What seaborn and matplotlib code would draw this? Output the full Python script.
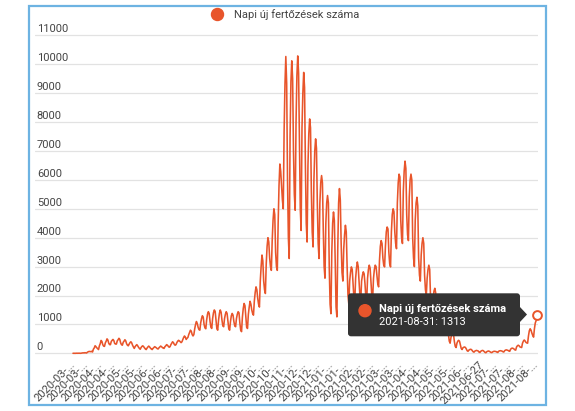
import pandas as pd
import matplotlib
matplotlib.use("Agg")
import matplotlib.pyplot as plt
import seaborn as sns
from matplotlib.patches import FancyBboxPatch, Polygon, Rectangle, Circle

series_name = "Napi új fertőzések száma"
start_date = "2020-03-04"

# daily new cases, one week per row
first_wave_2020 = [
    1, 0, 2, 0, 3, 1, 2,
    4, 2, 1, 6, 9, 17, 12,
    22, 15, 10, 40, 52, 66, 60,
    58, 70, 45, 144, 186, 263, 230,
    190, 160, 130, 257, 330, 445, 410,
    300, 250, 240, 360, 420, 500, 460,
    350, 300, 300, 410, 450, 480, 440,
    340, 320, 320, 430, 470, 520, 480,
    360, 300, 280, 380, 420, 470, 430,
    330, 280, 260, 320, 370, 400, 360,
    280, 220, 170, 230, 270, 300, 260,
    210, 170, 140, 200, 240, 260, 230,
    190, 150, 130, 180, 220, 250, 220,
    180, 150, 130, 170, 200, 230, 210,
]
summer_2020 = [
    190, 160, 150, 190, 220, 250, 230,
    200, 180, 170, 230, 260, 300, 280,
    240, 210, 230, 300, 350, 400, 370,
    310, 280, 300, 370, 420, 450, 430,
    400, 370, 400, 480, 550, 600, 560,
    480, 520, 550, 650, 730, 800, 760,
    650, 600, 650, 850, 1000, 1100, 1030,
    900, 820, 800, 1050, 1200, 1300, 1250,
    1000, 880, 850, 1150, 1350, 1440, 1380,
    1100, 900, 860, 1200, 1400, 1500, 1450,
    1150, 850, 800, 1150, 1380, 1500, 1420,
    1150, 950, 920, 1200, 1350, 1440, 1380,
    1100, 850, 800, 1100, 1300, 1380, 1320,
    1100, 950, 920, 1200, 1350, 1440, 1400,
    1050, 800, 750, 1250, 1550, 1725, 1650,
    1250, 900, 860, 1350, 1600, 1800, 1700,
]
autumn_2020 = [
    1500, 1380, 1320, 1800, 2100, 2300, 2200,
    1900, 1700, 1600, 2500, 3000, 3400, 3200,
    2500, 2200, 2070, 3100, 3700, 4000, 3850,
    3300, 3000, 2870, 3900, 4600, 5000, 4800,
    3500, 3000, 2870, 4500, 5800, 6550, 6300,
    5800, 5300, 5000, 7700, 9300, 10270, 9340,
    6000, 4000, 3280, 7500, 9400, 10120, 9500,
    7000, 5500, 4950, 8000, 9600, 10290, 9700,
    7200, 5000, 4250, 7800, 9000, 9720, 9200,
    6500, 4500, 3850, 6500, 7600, 8110, 7800,
    5600, 4200, 3680, 6000, 7000, 7420, 7100,
    5200, 3800, 3280, 5200, 5900, 6150, 5900,
    4300, 3000, 2600, 4500, 5200, 5460, 5200,
    3000, 1700, 1370, 3500, 4500, 4890, 4600,
    3200, 1600, 1260, 3600, 5200, 5700, 5300,
    3800, 2800, 2500, 3600, 4100, 4430, 4200,
]
winter_spring_2021 = [
    3000, 2000, 1700, 2500, 2800, 2990, 2900,
    2400, 1900, 1800, 2600, 2950, 3160, 3000,
    2500, 2000, 1800, 2500, 2700, 2820, 2750,
    2400, 1950, 1800, 2600, 2900, 3050, 2950,
    2500, 2000, 1900, 2600, 2900, 3050, 3000,
    2700, 2400, 2300, 3200, 3700, 3900, 3800,
    3300, 3050, 2990, 3700, 4200, 4370, 4300,
    3500, 3100, 2990, 4200, 4800, 5000, 4900,
    4200, 3800, 3620, 5200, 5900, 6200, 6100,
    4600, 4000, 3800, 5600, 6300, 6650, 6400,
    4800, 4100, 3900, 5400, 6000, 6200, 6000,
    4000, 3300, 3000, 4600, 5200, 5400, 5100,
    3300, 2700, 2500, 3400, 3800, 4000, 3800,
    2700, 2200, 2000, 2600, 2900, 3050, 2900,
    1900, 1450, 1300, 1900, 2150, 2250, 2100,
    1500, 1050, 900, 1400, 1600, 1700, 1600,
]
summer_2021 = [
    1000, 780, 700, 950, 1100, 1200, 1100,
    650, 420, 350, 550, 650, 700, 650,
    400, 240, 200, 350, 420, 450, 420,
    300, 170, 130, 190, 210, 220, 200,
    150, 90, 70, 110, 130, 140, 130,
    90, 55, 40, 75, 90, 100, 90,
    80, 40, 30, 70, 90, 100, 90,
    60, 30, 20, 55, 70, 80, 70,
    50, 30, 25, 50, 65, 70, 65,
    60, 40, 30, 70, 85, 90, 85,
    75, 55, 45, 90, 110, 120, 110,
    100, 80, 70, 140, 170, 180, 170,
    150, 120, 110, 220, 260, 280, 260,
    220, 210, 200, 350, 420, 460, 430,
    380, 360, 350, 600, 780, 850, 800,
    700, 620, 560, 850, 1050, 1130, 1313,
]

y_ticks = [0, 1000, 2000, 3000, 4000, 5000, 6000, 7000, 8000, 9000, 10000, 11000]
label_every = 16          # every 16th day gets a label
full_labels = ["2021-06-27"]

LINE = "#e8552b"
TEXT = "#444444"

sns.set_theme(style="white")
plt.rcParams["font.family"] = ["Roboto", "DejaVu Sans"]

values = first_wave_2020 + summer_2020 + autumn_2020 + winter_spring_2021 + summer_2021
dates = pd.date_range(start_date, periods=len(values), freq="D")
df = pd.DataFrame({"datum": dates, "esetek": values})

W, H = 575, 411
fig = plt.figure(figsize=(W / 100, H / 100), dpi=100)
fig.patch.set_facecolor("white")

# plot area in pixels: x 35..538, y 30..356
ax = fig.add_axes([35 / W, 1 - 356 / H, 503 / W, 326 / H])
sns.lineplot(data=df, x="datum", y="esetek", color=LINE, lw=1.15, ax=ax, legend=False)
for ln in ax.lines:
    ln.set_clip_on(False)
ax.scatter([dates[-1]], [values[-1]], s=40, facecolor="white", edgecolor=LINE,
           linewidth=1.4, zorder=6, clip_on=False)

ax.set_xlim(dates[0] - pd.Timedelta(days=44.6), dates[-1] + pd.Timedelta(days=1.2))
ax.set_ylim(-93, 11187)
for s in ax.spines.values():
    s.set_visible(False)
ax.set_xlabel("")
ax.set_ylabel("")

ax.set_yticks(y_ticks)
ax.set_yticklabels([])
ax.yaxis.grid(True, color="#e2e2e2", lw=0.9)
ax.xaxis.grid(False)
ax.tick_params(length=0)
for v in y_ticks:
    ax.annotate(str(v), xy=(0, v), xycoords=("axes fraction", "data"),
                xytext=(1.3, 2.2), textcoords="offset points",
                ha="left", va="baseline", fontsize=8, color=TEXT)

tick_dates = dates[::label_every]
tick_labels = []
for d in tick_dates:
    s = d.strftime("%Y-%m-%d")
    tick_labels.append(s if s in full_labels else s[:8] + "...")
ax.set_xticks(tick_dates)
ax.set_xticklabels(tick_labels, rotation=45, ha="right", va="center",
                   rotation_mode="anchor", fontsize=8, color=TEXT)
ax.tick_params(axis="x", pad=5)

# overlay in pixel coordinates for legend, tooltip and frame
ov = fig.add_axes([0, 0, 1, 1])
ov.set_xlim(0, W)
ov.set_ylim(H, 0)
ov.axis("off")
ov.set_zorder(10)

ov.add_patch(Rectangle((28.5, 6), 517.5, 399, fill=False, ec="#6db3e2", lw=1.6))

ov.add_patch(Circle((217.5, 14.5), 6, color=LINE))
ov.text(234, 14.5, series_name, ha="left", va="center", fontsize=8, color=TEXT)

ov.add_patch(FancyBboxPatch((348, 293.3), 172, 43, boxstyle="round,pad=0,rounding_size=3",
                            fc="#333333", ec="none"))
ov.add_patch(Polygon([(519.5, 306.5), (527, 314.5), (519.5, 322.5)], closed=True,
                     fc="#333333", ec="none"))
ov.add_patch(Circle((365, 310.7), 6, color=LINE))
ov.text(379, 308.7, series_name, ha="left", va="center", fontsize=8,
        fontweight="bold", color="white")
ov.text(379, 321.7, f"{dates[-1].strftime('%Y-%m-%d')}: {values[-1]}", ha="left",
        va="center", fontsize=8, color="white")

fig.savefig("out.png", dpi=100)
